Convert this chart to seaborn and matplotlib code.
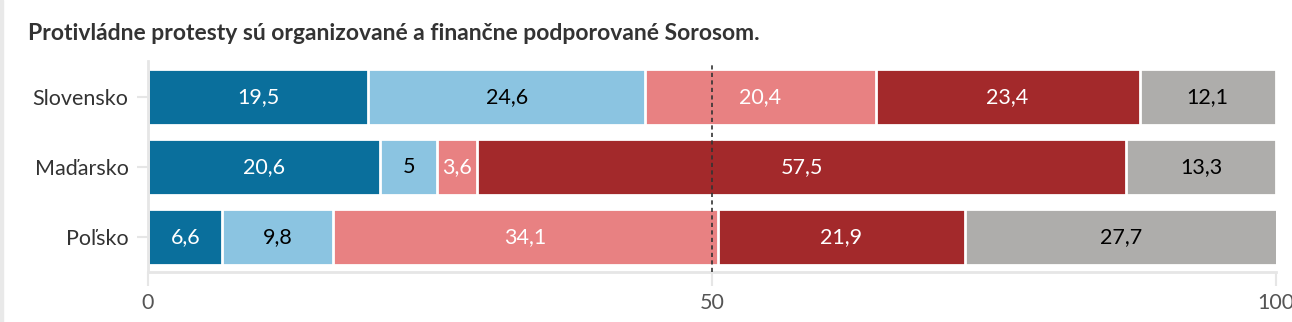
import numpy as np
import pandas as pd
import matplotlib
matplotlib.use("Agg")
import matplotlib.pyplot as plt
import seaborn as sns
from matplotlib.patches import Rectangle

title = "Protivládne protesty sú organizované a finančne podporované Sorosom."
countries = ["Slovensko", "Maďarsko", "Poľsko"]
s1 = [19.5, 20.6, 6.6]
s2 = [24.6, 5.0, 9.8]
s3 = [20.4, 3.6, 34.1]
s4 = [23.4, 57.5, 21.9]
s5 = [12.1, 13.3, 27.7]
series = [s1, s2, s3, s4, s5]
colors = ["#0a6f9c", "#8bc4e1", "#e88182", "#a3292b", "#aeadab"]
text_colors = ["white", "black", "white", "white", "black"]
xticks = [0, 50, 100]

sns.set_theme(style="white")
plt.rcParams["font.family"] = ["Lato", "DejaVu Sans"]

fig = plt.figure(figsize=(12.92, 3.22), dpi=100)
ax = fig.add_axes([148/1292, 1-272/322, (1276-148)/1292, (272-61)/322])

vals = np.array(series)  # shape 5 x 3
cum = np.cumsum(vals, axis=0)
for i in range(len(series)-1, -1, -1):
    df = pd.DataFrame({"country": countries, "value": cum[i]})
    sns.barplot(data=df, x="value", y="country", orient="h", color=colors[i],
                saturation=1, width=0.8, edgecolor="white", linewidth=2, ax=ax)

for i in range(len(series)):
    for j in range(len(countries)):
        left = cum[i, j] - vals[i, j]
        c = left + vals[i, j] / 2
        lab = f"{vals[i, j]:g}".replace(".", ",")
        ax.text(c, j, lab, ha="center", va="center", color=text_colors[i], fontsize=15.5)

ax.axvline(50, color="#333333", lw=1.2, ls=(0, (2.5, 2)), ymin=0, ymax=0.995, zorder=5)

ax.set_xlim(0, 100)
ax.set_ylim(2.5, -0.514)
ax.set_xlabel("")
ax.set_ylabel("")
ax.set_xticks(xticks)
ax.set_xticklabels([str(t) for t in xticks], fontsize=15.5, color="#555555")
ax.tick_params(axis="x", length=10, width=1.5, color="#e6e6e6", pad=5, bottom=True)
ax.tick_params(axis="y", length=8, width=1.5, color="#e6e6e6", pad=6, left=True, labelsize=15.5, labelcolor="#333333")
for s in ["top", "right"]:
    ax.spines[s].set_visible(False)
for s in ["bottom", "left"]:
    ax.spines[s].set_color("#e6e6e6")
    ax.spines[s].set_linewidth(2)

fig.text(28/1292, 1-33/322, title, fontsize=16.5, fontweight="bold", color="#333333",
         ha="left", va="center")
fig.patches.append(Rectangle((0, 0), 3/1292, 1, transform=fig.transFigure,
                             color="#e9e9e9", zorder=0))

fig.savefig("out.png", dpi=100)
